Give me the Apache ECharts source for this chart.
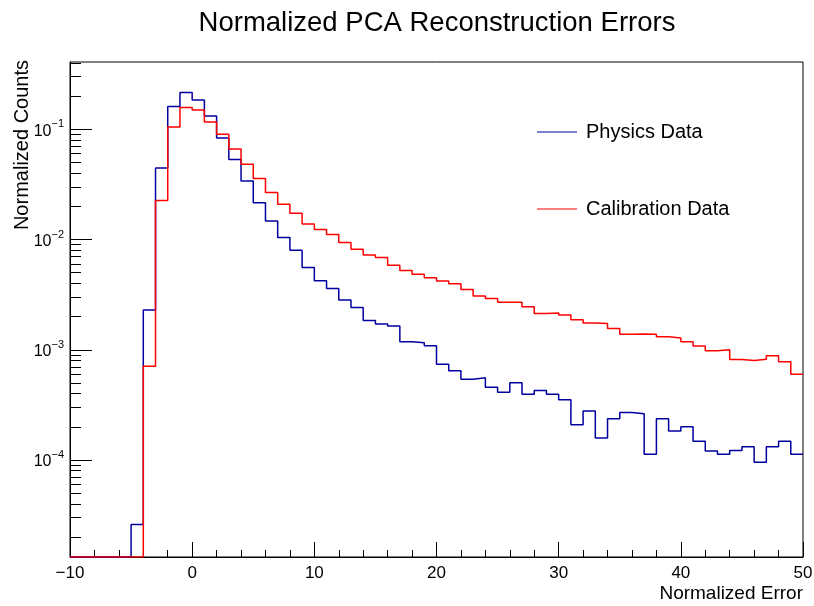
<!DOCTYPE html>
<html>
<head>
<meta charset="utf-8">
<script src="https://cdn.jsdelivr.net/npm/echarts@6/dist/echarts.min.js"></script>
<style>
  html, body { margin: 0; padding: 0; background: #fff; }
  #main { width: 814px; height: 606px; }
</style>
</head>
<body>
<div id="main"></div>
<script>
// bin edges, width 1, from -10 to 50
var binEdges = [-10, -9, -8, -7, -6, -5, -4, -3, -2, -1, 0, 1, 2, 3, 4, 5, 6, 7, 8, 9,
  10, 11, 12, 13, 14, 15, 16, 17, 18, 19, 20, 21, 22, 23, 24, 25, 26, 27, 28, 29,
  30, 31, 32, 33, 34, 35, 36, 37, 38, 39, 40, 41, 42, 43, 44, 45, 46, 47, 48, 49, 50];

var physics = [0, 0, 0, 0, 0, 2.6e-5, 0.00229, 0.0446, 0.161, 0.215,
  0.184, 0.132, 0.0834, 0.0531, 0.0340, 0.0215, 0.0147, 0.0104, 0.0080, 0.00557,
  0.00422, 0.0036, 0.00282, 0.00242, 0.00184, 0.00171, 0.00164, 0.00118, 0.00116, 0.00109,
  0.00074, 0.000644, 0.000541, 0.000556, 0.000458, 0.000412, 0.000501, 0.000395, 0.000427, 0.000394,
  0.000352, 0.000209, 0.000279, 0.000158, 0.000237, 0.00027, 0.000263, 0.000113, 0.000237, 0.000183,
  0.0002, 0.000148, 0.000121, 0.000113, 0.000122, 0.000132, 0.0000957, 0.000132, 0.000148, 0.000113];

var calibration = [0, 0, 0, 0, 0, 0, 0.00071, 0.0226, 0.105, 0.157,
  0.149, 0.116, 0.090, 0.066, 0.0482, 0.0357, 0.0267, 0.0209, 0.0173, 0.0138,
  0.0123, 0.0111, 0.0094, 0.00817, 0.00725, 0.00687, 0.00585, 0.00523, 0.00484, 0.00449,
  0.00421, 0.00396, 0.00352, 0.00308, 0.00292, 0.0027, 0.0027, 0.00245, 0.00213, 0.00216,
  0.00207, 0.00187, 0.00175, 0.00173, 0.00156, 0.00138, 0.00139, 0.00138, 0.00131, 0.00128,
  0.00118, 0.00108, 0.000978, 0.000998, 0.000816, 0.0008, 0.000822, 0.000881, 0.000777, 0.000601];

var yMajor = [1e-4, 1e-3, 1e-2, 1e-1];
var yMinor = [2e-5, 3e-5, 4e-5, 5e-5, 6e-5, 7e-5, 8e-5, 9e-5,
  2e-4, 3e-4, 4e-4, 5e-4, 6e-4, 7e-4, 8e-4, 9e-4,
  2e-3, 3e-3, 4e-3, 5e-3, 6e-3, 7e-3, 8e-3, 9e-3,
  2e-2, 3e-2, 4e-2, 5e-2, 6e-2, 7e-2, 8e-2, 9e-2,
  0.2, 0.3, 0.4];

var yFloor = 1.32e-5;
var yCeil = 0.407;

// empty bins sit on the frame floor, like ROOT draws them
function histPoints(vals) {
  var pts = vals.map(function (v, i) {
    return [binEdges[i], v > 0 ? v : yFloor];
  });
  pts.push([binEdges[vals.length], pts[pts.length - 1][1]]);
  return pts;
}

function sciLabel(v) {
  var e = Math.round(Math.log10(v));
  return '{b|10}{s|' + (e < 0 ? '\u2212' : '') + Math.abs(e) + '}';
}

var font = 'Liberation Sans, Arial, sans-serif';
var lineIcon = 'path://M0,0 L40,0 L40,1 L0,1 Z';
var chart = echarts.init(document.getElementById('main'), null, { renderer: 'canvas' });

var option = {
  backgroundColor: '#fff',
  animation: false,
  textStyle: { fontFamily: font, color: '#000' },
  title: {
    text: 'Normalized PCA Reconstruction Errors',
    left: 432,
    textAlign: 'center',
    top: 4,
    textStyle: { fontFamily: font, fontSize: 27.5, fontWeight: 'normal', color: '#000' }
  },
  legend: {
    orient: 'vertical',
    left: 532,
    top: 117,
    itemWidth: 40,
    itemHeight: 1.5,
    itemGap: 57,
    icon: lineIcon,
    textStyle: { fontFamily: font, fontSize: 20, color: '#000', padding: [0, 0, 0, 4] },
    data: ['Physics Data', 'Calibration Data']
  },
  grid: {
    left: 70,
    right: 11,
    top: 62,
    bottom: 49,
    outerBoundsMode: 'none',
    show: true,
    borderColor: '#000',
    borderWidth: 1,
    backgroundColor: '#fff'
  },
  xAxis: {
    type: 'value',
    min: -10,
    max: 50,
    interval: 10,
    name: 'Normalized Error',
    nameLocation: 'end',
    nameGap: 0,
    nameMoveOverlap: false,
    nameTextStyle: {
      fontFamily: font, fontSize: 19, color: '#000',
      align: 'right', verticalAlign: 'top', padding: [27, 0, 0, 0]
    },
    axisLine: { onZero: false, lineStyle: { color: '#000', width: 1 } },
    axisTick: { inside: true, length: 15, lineStyle: { color: '#000' } },
    minorTick: { show: true, splitNumber: 5, length: 7, lineStyle: { color: '#000' } },
    splitLine: { show: false },
    axisLabel: {
      fontFamily: font, fontSize: 17, color: '#000', margin: 8,
      formatter: function (v) { return String(v).replace('-', '\u2212'); }
    }
  },
  yAxis: [
    {
      type: 'log',
      logBase: 10,
      min: yFloor,
      max: yCeil,
      name: 'Normalized Counts',
      nameLocation: 'end',
      nameRotate: 90,
      nameGap: 2,
      nameMoveOverlap: false,
      nameTextStyle: {
        fontFamily: font, fontSize: 20, color: '#000',
        align: 'right', verticalAlign: 'bottom', padding: [0, 0, 38, 0]
      },
      axisLine: { show: true, onZero: false, lineStyle: { color: '#000', width: 1 } },
      axisTick: { inside: true, length: 22, customValues: yMajor, lineStyle: { color: '#000' } },
      splitLine: { show: false },
      axisLabel: {
        customValues: yMajor,
        margin: 6,
        formatter: sciLabel,
        rich: {
          b: { fontFamily: font, fontSize: 16, color: '#000', padding: [4, 0, 0, 0] },
          s: { fontFamily: font, fontSize: 11, color: '#000', padding: [0, 0, 10, 0] }
        }
      }
    },
    {
      type: 'log',
      logBase: 10,
      min: yFloor,
      max: yCeil,
      position: 'left',
      axisLine: { show: false, onZero: false },
      axisTick: { inside: true, length: 11, customValues: yMinor, lineStyle: { color: '#000' } },
      axisLabel: { show: false },
      splitLine: { show: false }
    }
  ],
  series: [
    {
      name: 'Physics Data',
      type: 'line',
      step: 'end',
      symbol: 'none',
      lineStyle: { color: '#0000a0', width: 1.5 },
      itemStyle: { color: '#0000a0' },
      data: histPoints(physics)
    },
    {
      name: 'Calibration Data',
      type: 'line',
      step: 'end',
      symbol: 'none',
      lineStyle: { color: '#ff0000', width: 1.5 },
      itemStyle: { color: '#ff0000' },
      data: histPoints(calibration)
    }
  ]
};

chart.setOption(option);
</script>
</body>
</html>
